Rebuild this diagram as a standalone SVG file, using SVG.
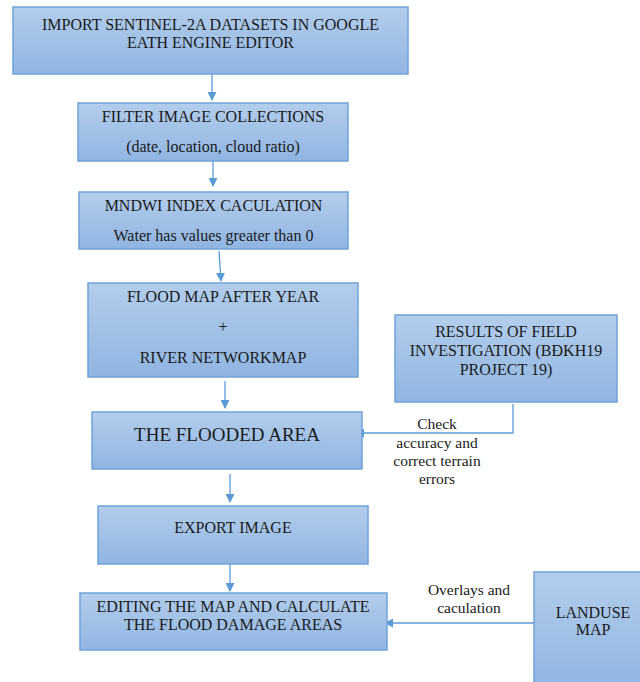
<svg xmlns="http://www.w3.org/2000/svg" width="640" height="682" viewBox="0 0 640 682">
  <defs>
    <linearGradient id="g" x1="0" y1="0" x2="0" y2="1">
      <stop offset="0" stop-color="#b3cdec"/>
      <stop offset="1" stop-color="#90b5e2"/>
    </linearGradient>
    <marker id="ah" viewBox="0 0 10 10" refX="9" refY="5" markerWidth="9" markerHeight="9" markerUnits="userSpaceOnUse" orient="auto">
      <path d="M0,0 L10,5 L0,10 z" fill="#5b9bd5"/>
    </marker>
  </defs>
  <style>
    .box { fill: url(#g); stroke: #6fa3d8; stroke-width: 1.5; }
    .t { font-family: "Liberation Serif", "Times New Roman", serif; fill: #1a1a1a; text-anchor: middle; font-size: 16px; }
    .c { stroke: #5b9bd5; stroke-width: 1.3; fill: none; }
    .lbl { font-family: "Liberation Serif", "Times New Roman", serif; fill: #1a1a1a; text-anchor: middle; font-size: 15.5px; }
  </style>
  <rect width="640" height="682" fill="#ffffff"/>

  <g id="connectors">
    <path class="c" d="M212,74 L212,100" marker-end="url(#ah)"/>
    <path class="c" d="M213,161 L213,186" marker-end="url(#ah)"/>
    <path class="c" d="M219,251 L221,281" marker-end="url(#ah)"/>
    <path class="c" d="M225,381 L225,408" marker-end="url(#ah)"/>
    <path class="c" d="M513,404 L513,433 L356,433" marker-end="url(#ah)"/>
    <path class="c" d="M230,474 L230,502" marker-end="url(#ah)"/>
    <path class="c" d="M230,564 L230,591" marker-end="url(#ah)"/>
    <path class="c" d="M534,623 L385,623" marker-end="url(#ah)"/>
  </g>

  <g id="n-import">
    <rect class="box" x="13" y="7" width="395" height="67"/>
    <text class="t" x="210.5" y="30">IMPORT SENTINEL-2A DATASETS IN GOOGLE</text>
    <text class="t" x="210.5" y="48">EATH ENGINE EDITOR</text>
  </g>
  <g id="n-filter">
    <rect class="box" x="78" y="103" width="270" height="58"/>
    <text class="t" x="213" y="122">FILTER IMAGE COLLECTIONS</text>
    <text class="t" x="213" y="152">(date, location, cloud ratio)</text>
  </g>
  <g id="n-mndwi">
    <rect class="box" x="79" y="192" width="269" height="57"/>
    <text class="t" x="213.5" y="211">MNDWI INDEX CACULATION</text>
    <text class="t" x="213.5" y="241">Water has values greater than 0</text>
  </g>
  <g id="n-floodmap">
    <rect class="box" x="88" y="283" width="270" height="94"/>
    <text class="t" x="223" y="302">FLOOD MAP AFTER YEAR</text>
    <text class="t" x="223" y="332">+</text>
    <text class="t" x="223" y="363">RIVER NETWORKMAP</text>
  </g>
  <g id="n-results">
    <rect class="box" x="395" y="315" width="222" height="87"/>
    <text class="t" x="506" y="337">RESULTS OF FIELD</text>
    <text class="t" x="506" y="356">INVESTIGATION (BĐKH19</text>
    <text class="t" x="506" y="375">PROJECT 19)</text>
  </g>
  <g id="n-flooded">
    <rect class="box" x="92" y="412" width="270" height="57"/>
    <text class="t" x="227" y="441" style="font-size:19px">THE FLOODED AREA</text>
  </g>
  <g id="n-export">
    <rect class="box" x="98" y="506" width="270" height="58"/>
    <text class="t" x="233" y="533">EXPORT IMAGE</text>
  </g>
  <g id="n-editing">
    <rect class="box" x="80" y="593" width="307" height="57"/>
    <text class="t" x="233" y="612">EDITING THE MAP AND CALCULATE</text>
    <text class="t" x="233" y="630">THE FLOOD DAMAGE AREAS</text>
  </g>
  <g id="n-landuse">
    <rect class="box" x="534" y="572" width="110" height="120"/>
    <text class="t" x="593" y="618">LANDUSE</text>
    <text class="t" x="593" y="635">MAP</text>
  </g>

  <g id="labels">
    <text class="lbl" x="437" y="429">Check</text>
    <text class="lbl" x="437" y="448">accuracy and</text>
    <text class="lbl" x="437" y="466">correct terrain</text>
    <text class="lbl" x="437" y="484">errors</text>
    <text class="lbl" x="469" y="595">Overlays and</text>
    <text class="lbl" x="469" y="613">caculation</text>
  </g>
</svg>
